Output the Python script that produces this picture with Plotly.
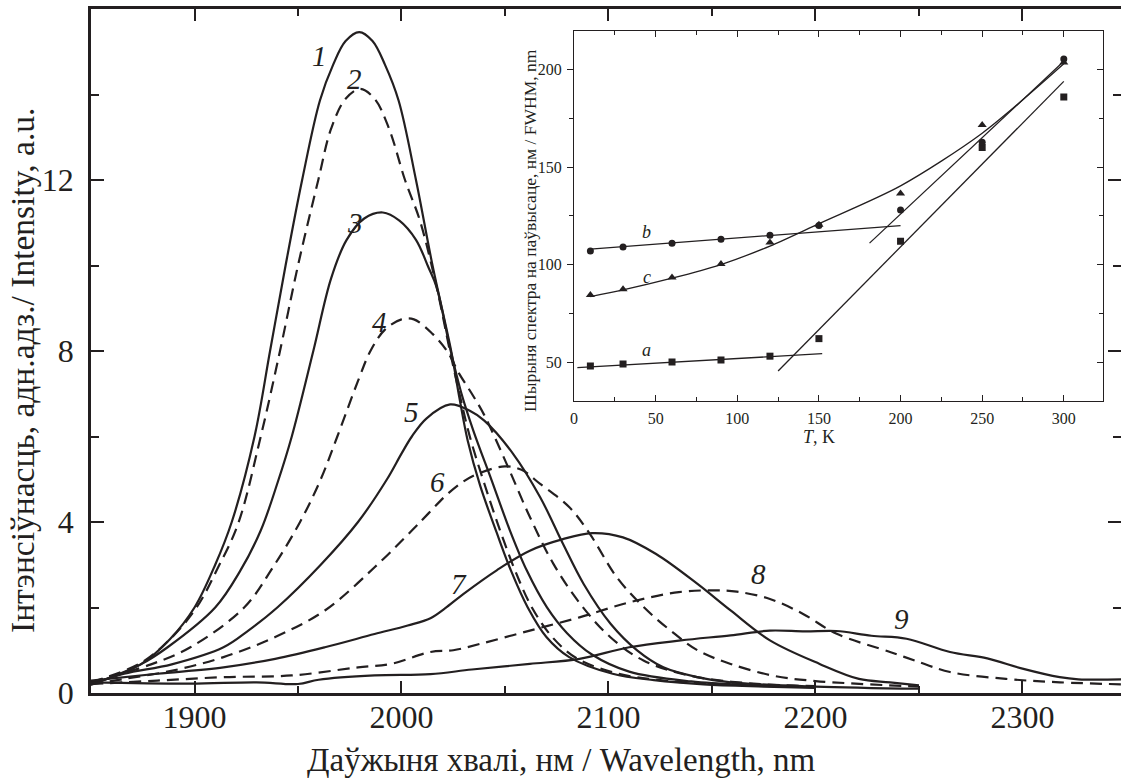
import plotly.graph_objects as go

INK = "#231f20"
FONT = "Liberation Serif"

# ---------------- main spectra (wavelength nm, intensity a.u.) ----------------
W1 = [1850, 1874, 1888, 1900, 1910, 1918, 1929, 1936.5, 1944, 1952, 1960.6, 1967, 1973, 1979.6, 1986, 1992, 1998.6, 2007, 2015, 2024, 2028, 2032, 2038, 2046, 2053, 2061, 2070, 2081, 2102, 2122, 2146, 2175, 2200]
I1 = [0.2, 0.67, 1.25, 2.0, 3.0, 4.0, 6.0, 8.0, 10.0, 12.0, 13.86, 14.7, 15.25, 15.46, 15.25, 14.7, 13.86, 12.0, 10.0, 8.0, 6.9, 5.9, 4.85, 3.75, 2.85, 2.0, 1.31, 0.84, 0.45, 0.3, 0.2, 0.15, 0.12]

W2 = [1850, 1874, 1888, 1901, 1911, 1921, 1932, 1941.3, 1950, 1959.8, 1966, 1973, 1980, 1987, 1994, 2001.7, 2008.9, 2017, 2023.4, 2028, 2033, 2040, 2048, 2055, 2063, 2073, 2085, 2105, 2125, 2150, 2200]
I2 = [0.25, 0.7, 1.25, 2.0, 2.9, 3.95, 6.0, 8.0, 10.0, 12.0, 13.2, 13.9, 14.13, 13.9, 13.2, 12.0, 11.05, 9.49, 8.0, 7.0, 6.0, 4.9, 3.75, 2.85, 2.0, 1.3, 0.8, 0.45, 0.3, 0.22, 0.14]

W3 = [1850, 1874, 1887, 1910, 1922, 1932, 1940, 1947, 1957.4, 1966, 1973.5, 1982, 1991, 1999, 2007, 2013, 2017, 2023.4, 2029, 2034.7, 2043.6, 2052.4, 2060.5, 2070.2, 2080, 2092, 2110, 2140, 2170, 2200]
I3 = [0.2, 0.67, 1.07, 2.0, 2.85, 3.8, 4.9, 6.0, 8.0, 9.7, 10.6, 11.1, 11.24, 11.05, 10.6, 9.96, 9.49, 8.08, 7.0, 6.14, 4.97, 3.8, 2.87, 2.01, 1.4, 0.9, 0.5, 0.27, 0.18, 0.13]

W4 = [1850, 1879, 1898, 1924, 1938, 1951, 1961, 1969, 1979, 1985, 1992, 2000, 2006, 2015, 2022, 2028, 2034, 2040, 2050.8, 2062.1, 2073.4, 2086.3, 2100.8, 2116.9, 2140, 2170, 2200]
I4 = [0.25, 0.67, 1.07, 2.0, 2.95, 4.0, 5.0, 6.0, 7.3, 8.0, 8.5, 8.74, 8.74, 8.4, 8.0, 7.46, 7.0, 6.5, 5.36, 4.11, 3.02, 2.09, 1.31, 0.76, 0.4, 0.22, 0.16]

W5 = [1850, 1866, 1889, 1914, 1926, 1940, 1961, 1979, 1993, 2000, 2005, 2012, 2023.5, 2033, 2040, 2054, 2067, 2078, 2088, 2101, 2114, 2126.5, 2143, 2159, 2200, 2250]
I5 = [0.2, 0.45, 0.67, 1.07, 1.46, 2.0, 3.0, 4.0, 5.0, 5.6, 6.0, 6.42, 6.75, 6.6, 6.37, 5.59, 4.58, 3.49, 2.55, 1.62, 0.99, 0.6, 0.37, 0.25, 0.15, 0.1]

W6 = [1850, 1866, 1890, 1914, 1939, 1963, 1987, 2005, 2014, 2021, 2030, 2038, 2050, 2058, 2067, 2081, 2091, 2104, 2117, 2130, 2143, 2159, 2180, 2200, 2250]
I6 = [0.2, 0.33, 0.53, 0.84, 1.31, 1.93, 2.94, 3.8, 4.25, 4.6, 4.95, 5.15, 5.3, 5.22, 4.89, 4.35, 3.72, 2.71, 2.01, 1.46, 1.0, 0.68, 0.4, 0.28, 0.15]

W7 = [1850, 1882, 1914, 1939, 1963, 1987, 2003, 2014, 2021, 2030, 2046, 2062, 2078, 2092, 2107, 2123, 2143, 2159, 2178, 2202, 2221, 2236, 2250]
I7 = [0.29, 0.45, 0.6, 0.8, 1.07, 1.38, 1.58, 1.75, 1.98, 2.32, 2.87, 3.33, 3.6, 3.74, 3.64, 3.25, 2.55, 1.93, 1.23, 0.68, 0.33, 0.25, 0.18]

W8 = [1850, 1882, 1914, 1947, 1979, 1995, 2014, 2025, 2038, 2062, 2086, 2110, 2134, 2150, 2162, 2178, 2194, 2210, 2236, 2248, 2265, 2292, 2318, 2350]
I8 = [0.21, 0.29, 0.37, 0.41, 0.6, 0.68, 0.96, 1.0, 1.15, 1.46, 1.77, 2.12, 2.36, 2.4, 2.37, 2.2, 1.85, 1.39, 0.96, 0.76, 0.49, 0.33, 0.25, 0.2]

W9 = [1850, 1898, 1930, 1950, 1960, 1987, 2014, 2034, 2062, 2086, 2110, 2135, 2159, 2178, 2195, 2210, 2227, 2244, 2265, 2283, 2300, 2318, 2327, 2350]
I9 = [0.25, 0.22, 0.25, 0.21, 0.31, 0.41, 0.44, 0.55, 0.68, 0.8, 1.07, 1.23, 1.35, 1.46, 1.44, 1.45, 1.34, 1.27, 0.96, 0.81, 0.57, 0.37, 0.32, 0.32]

SPECTRA = [(W1, I1, "solid"), (W2, I2, "dash"), (W3, I3, "solid"), (W4, I4, "dash"),
           (W5, I5, "solid"), (W6, I6, "dash"), (W7, I7, "solid"), (W8, I8, "dash"),
           (W9, I9, "solid")]

CURVE_LABELS = ["1", "2", "3", "4", "5", "6", "7", "8", "9"]
LABEL_X = [1960.6, 1977.5, 1977.5, 1989.6, 2004.6, 2017.5, 2028, 2172.4, 2241.5]
LABEL_Y = [14.9, 14.37, 11.0, 8.67, 6.57, 4.93, 2.55, 2.79, 1.74]

# ---------------- inset: FWHM vs temperature ----------------
T_PTS = [10, 30, 60, 90, 120, 150, 200, 250, 300]
FWHM_A = [48, 49, 50, 51, 53, 62, 112, 160, 186]
FWHM_B = [107, 109, 111, 113, 115, 120, 128, 162.7, 205.5]
FWHM_C = [84.4, 87.3, 93.3, 100.3, 111.3, 120.4, 136.5, 171.6, 203.7]

FIT_A_LOW_T = [2, 152]
FIT_A_LOW_V = [47.1, 54.3]
FIT_A_HIGH_T = [125, 300]
FIT_A_HIGH_V = [45.4, 194]
FIT_B_LOW_T = [10, 200]
FIT_B_LOW_V = [107.9, 120]
FIT_B_HIGH_T = [181, 300]
FIT_B_HIGH_V = [111, 204.3]
FIT_C_T = [10, 30, 60, 90, 120, 150, 200, 250, 300]
FIT_C_V = [83.6, 87, 93, 100, 109.5, 121, 140.4, 167.4, 203]

INSET_LABELS = ["a", "b", "c"]
INSET_LABEL_T = [44.5, 44.5, 44.5]
INSET_LABEL_V = [56.2, 116.9, 93.8]

fig = go.Figure()

for w, i, dash in SPECTRA:
    fig.add_trace(go.Scatter(
        x=w, y=i, mode="lines",
        line=dict(color=INK, width=2.2, dash=("12px,7px" if dash == "dash" else "solid"),
                  shape="spline", smoothing=1.0),
        hoverinfo="skip", showlegend=False, xaxis="x", yaxis="y"))

# dummy for right-side tick axis of main plot
fig.add_trace(go.Scatter(x=[None], y=[None], xaxis="x", yaxis="y2", showlegend=False, hoverinfo="skip"))

# inset fits
for tt, vv in [(FIT_A_LOW_T, FIT_A_LOW_V), (FIT_A_HIGH_T, FIT_A_HIGH_V),
               (FIT_B_LOW_T, FIT_B_LOW_V), (FIT_B_HIGH_T, FIT_B_HIGH_V)]:
    fig.add_trace(go.Scatter(x=tt, y=vv, mode="lines", line=dict(color=INK, width=1.3),
                             xaxis="x3", yaxis="y3", showlegend=False, hoverinfo="skip"))
fig.add_trace(go.Scatter(x=FIT_C_T, y=FIT_C_V, mode="lines",
                         line=dict(color=INK, width=1.3, shape="spline", smoothing=0.8),
                         xaxis="x3", yaxis="y3", showlegend=False, hoverinfo="skip"))

for vals, sym, sz in [(FWHM_A, "square", 7), (FWHM_B, "circle", 7), (FWHM_C, "triangle-up", 8)]:
    fig.add_trace(go.Scatter(x=T_PTS, y=vals, mode="markers",
                             marker=dict(symbol=sym, size=sz, color=INK),
                             xaxis="x3", yaxis="y3", showlegend=False, hoverinfo="skip"))

fig.add_trace(go.Scatter(x=[None], y=[None], xaxis="x3", yaxis="y4", showlegend=False, hoverinfo="skip"))

annotations = []
for lab, lx, ly in zip(CURVE_LABELS, LABEL_X, LABEL_Y):
    annotations.append(dict(x=lx, y=ly, xref="x", yref="y", text="<i>%s</i>" % lab,
                            showarrow=False, font=dict(family=FONT, size=29, color=INK)))
for lab, lx, ly in zip(INSET_LABELS, INSET_LABEL_T, INSET_LABEL_V):
    annotations.append(dict(x=lx, y=ly, xref="x3", yref="y3", text="<i>%s</i>" % lab,
                            showarrow=False, font=dict(family=FONT, size=18, color=INK)))

# axis titles
annotations.append(dict(x=0.4563, y=-0.098, xref="paper", yref="paper",
                        text="Даўжыня хвалі, нм / Wavelength, nm", showarrow=False,
                        xanchor="center", yanchor="middle",
                        font=dict(family=FONT, size=33, color=INK)))
annotations.append(dict(x=-0.066, y=0.4708, xref="paper", yref="paper",
                        text="Інтэнсіўнасць, адн.адз./ Intensity, a.u.", showarrow=False,
                        textangle=-90, xanchor="center", yanchor="middle",
                        font=dict(family=FONT, size=33.5, color=INK)))
annotations.append(dict(x=0.4262, y=0.677, xref="paper", yref="paper",
                        text="Шырыня спектра на паўвысаце, нм / FWHM, nm", showarrow=False,
                        textangle=-90, xanchor="center", yanchor="middle",
                        font=dict(family=FONT, size=17.5, color=INK)))
annotations.append(dict(x=150, y=0.374, xref="x3", yref="paper",
                        text="<i>T</i>, K", showarrow=False,
                        xanchor="center", yanchor="middle",
                        font=dict(family=FONT, size=18, color=INK)))

fig.update_layout(
    width=1121, height=781,
    margin=dict(l=91, r=0, t=9, b=88),
    paper_bgcolor="white", plot_bgcolor="white",
    showlegend=False,
    font=dict(family=FONT, color=INK),
    xaxis=dict(domain=[0, 1], range=[1850, 2347.6], tickmode="linear", tick0=1900, dtick=100,
               ticks="inside", ticklen=12, tickwidth=2, tickcolor=INK,
               minor=dict(tick0=1850, dtick=50, ticks="inside", ticklen=7, tickwidth=2, tickcolor=INK),
               showline=True, linewidth=2.5, linecolor=INK, mirror="ticks",
               showgrid=False, zeroline=False, ticklabelstandoff=-6,
               tickfont=dict(family=FONT, size=32, color=INK)),
    yaxis=dict(domain=[0, 1], range=[0, 16], tickmode="linear", tick0=0, dtick=4,
               ticks="inside", ticklen=13, tickwidth=2, tickcolor=INK,
               minor=dict(tick0=0, dtick=2, ticks="inside", ticklen=8, tickwidth=2, tickcolor=INK),
               showline=True, linewidth=2.5, linecolor=INK, mirror=False,
               showgrid=False, zeroline=False, ticklabelstandoff=8,
               tickfont=dict(family=FONT, size=32, color=INK)),
    yaxis2=dict(overlaying="y", side="right", anchor="x", range=[0, 16], tickmode="linear",
                tick0=0, dtick=4, ticks="inside", ticklen=13, tickwidth=2, tickcolor=INK,
                minor=dict(tick0=0, dtick=2, ticks="inside", ticklen=8, tickwidth=2, tickcolor=INK),
                showticklabels=False, showline=False, showgrid=False, zeroline=False),
    xaxis3=dict(domain=[0.469, 0.9825], anchor="y3", range=[0, 324], tickmode="linear",
                tick0=0, dtick=50, ticks="inside", ticklen=6, tickwidth=1.2, tickcolor=INK,
                minor=dict(tick0=0, dtick=25, ticks="inside", ticklen=4, tickwidth=1.2, tickcolor=INK),
                showline=True, linewidth=1.3, linecolor=INK, mirror="ticks",
                showgrid=False, zeroline=False, ticklabelstandoff=3,
                tickfont=dict(family=FONT, size=16, color=INK)),
    yaxis3=dict(domain=[0.4269, 0.9683], anchor="x3", range=[30, 220], tickmode="linear",
                tick0=0, dtick=50, ticks="outside", ticklen=6, tickwidth=1.2, tickcolor=INK,
                minor=dict(tick0=0, dtick=25, ticks="outside", ticklen=4, tickwidth=1.2, tickcolor=INK),
                showline=True, linewidth=1.3, linecolor=INK, mirror=True,
                showgrid=False, zeroline=False, ticklabelstandoff=2,
                tickfont=dict(family=FONT, size=16, color=INK)),
    yaxis4=dict(overlaying="y3", side="right", anchor="x3", range=[30, 220], tickmode="linear",
                tick0=0, dtick=50, ticks="inside", ticklen=6, tickwidth=1.2, tickcolor=INK,
                minor=dict(tick0=0, dtick=25, ticks="inside", ticklen=4, tickwidth=1.2, tickcolor=INK),
                showticklabels=False, showline=False, showgrid=False, zeroline=False),
    annotations=annotations,
)

fig.write_html("out.html", config={"displayModeBar": False},
               post_script="document.body.style.margin='0px';document.body.style.overflow='hidden';")
